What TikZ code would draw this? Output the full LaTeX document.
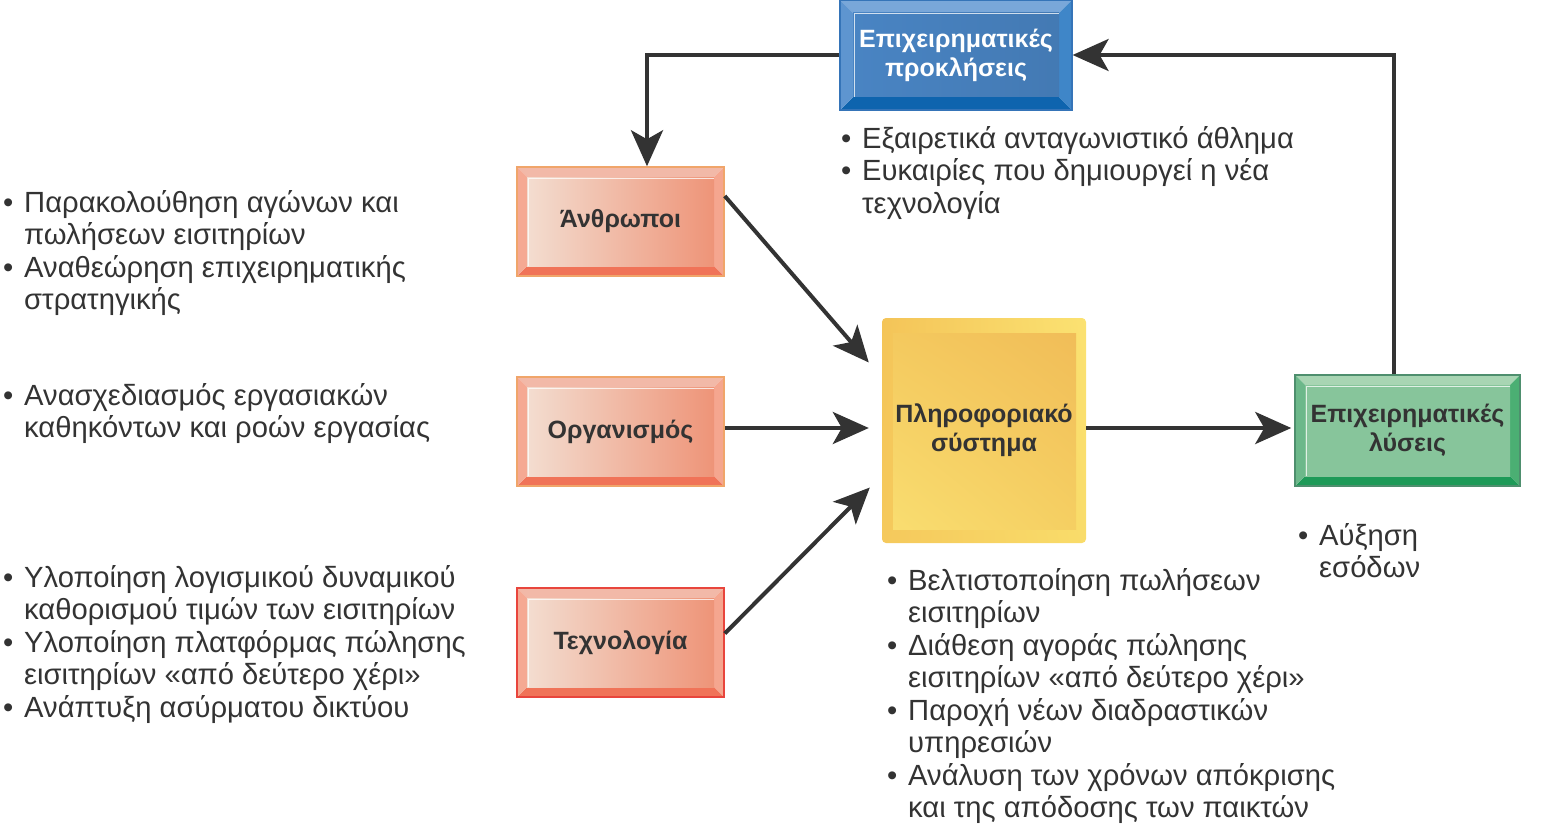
\documentclass[tikz,border=0pt]{standalone}
\usepackage{fontspec}
\setmainfont{Liberation Sans}
\usetikzlibrary{arrows.meta,calc,shadings}
\definecolor{txt}{HTML}{333333}
\definecolor{arr}{HTML}{333333}
% orange
\definecolor{orTop}{HTML}{F2B9A8}
\definecolor{orBot}{HTML}{F07358}
\definecolor{orLeft}{HTML}{F5A993}
\definecolor{orRight}{HTML}{F5A68F}
\definecolor{orFaceL}{HTML}{F3DDD0}
\definecolor{orFaceR}{HTML}{EE9478}
\definecolor{orBorder}{HTML}{F0A56A}
\definecolor{redBorder}{HTML}{E8453C}
% blue
\definecolor{blTop}{HTML}{79A7D9}
\definecolor{blBot}{HTML}{0E64AE}
\definecolor{blLeft}{HTML}{5E95D0}
\definecolor{blRight}{HTML}{3F86C8}
\definecolor{blFace}{HTML}{4984C3}
\definecolor{blBorder}{HTML}{3574B8}
% green
\definecolor{grTop}{HTML}{A8D5B3}
\definecolor{grBot}{HTML}{1E9A58}
\definecolor{grLeft}{HTML}{6CB88A}
\definecolor{grRight}{HTML}{4BAF73}
\definecolor{grFace}{HTML}{87C59B}
\definecolor{grBorder}{HTML}{4E8F6E}
% yellow
\definecolor{yoUL}{HTML}{F4C458}
\definecolor{yoUR}{HTML}{FBE272}
\definecolor{yoLL}{HTML}{F5C95C}
\definecolor{yoLR}{HTML}{F9DC6A}
\definecolor{yiUL}{HTML}{F4C95E}
\definecolor{yiUR}{HTML}{F1BD58}
\definecolor{yiLL}{HTML}{F9DD70}
\definecolor{yiLR}{HTML}{F5CF62}
\newcommand\bevelbox[9]{%
  \fill[#6] (#1,#2) -- (#3,#2) -- ({#3-#5},{#2+#5}) -- ({#1+#5},{#2+#5}) -- cycle;
  \fill[#7] (#1,#4) -- (#3,#4) -- ({#3-#5},{#4-#5}) -- ({#1+#5},{#4-#5}) -- cycle;
  \fill[#8] (#1,#2) -- ({#1+#5},{#2+#5}) -- ({#1+#5},{#4-#5}) -- (#1,#4) -- cycle;
  \fill[#9] (#3,#2) -- ({#3-#5},{#2+#5}) -- ({#3-#5},{#4-#5}) -- (#3,#4) -- cycle;
}
\newcommand\facebox[6]{%
  \shade[#6] ({#1+#5},{#2+#5}) rectangle ({#3-#5},{#4-#5});
  \draw[white, opacity=.75, line width=1pt] ({#1+#5+1},{#4-#5}) -- ({#1+#5+1},{#2+#5+1}) -- ({#3-#5},{#2+#5+1});
}
\newcommand\bl{\makebox[21pt][l]{•}}
\newcommand\ind{\hspace*{21pt}}
\tikzset{
  boxlabel/.style={font=\fontsize{25}{29}\selectfont\bfseries, text=txt, align=center, inner sep=0pt},
  bodytext/.style={font=\fontsize{29.2}{32.5}\selectfont, text=txt, align=left, inner sep=0pt, anchor=base west},
  conn/.style={draw=arr, line width=4pt, -{Stealth[length=36pt,width=32pt,inset=9pt]}},
}
\begin{document}
\begin{tikzpicture}[x=1pt, y=-1pt]
\useasboundingbox (0,0) rectangle (1544,824);
% ---- blue box
\bevelbox{840}{0}{1072}{110}{13}{blTop}{blBot}{blLeft}{blRight}
\facebox{840}{0}{1072}{110}{13}{left color=blFace, right color=blFace!92!black}
\node[boxlabel, text=white, draw=blBorder, line width=1.2pt, minimum width=232pt, minimum height=110pt] (chal) at (956,55) {Επιχειρηματικές\\προκλήσεις};
% ---- orange boxes
\bevelbox{517}{167}{724}{276}{10}{orTop}{orBot}{orLeft}{orRight}
\facebox{517}{167}{724}{276}{10}{left color=orFaceL, right color=orFaceR}
\node[boxlabel, draw=orBorder, line width=1.5pt, minimum width=207pt, minimum height=109pt] (anth) at (620.5,221.5) {Άνθρωποι};
\bevelbox{517}{377}{724}{486}{10}{orTop}{orBot}{orLeft}{orRight}
\facebox{517}{377}{724}{486}{10}{left color=orFaceL, right color=orFaceR}
\node[boxlabel, draw=orBorder, line width=1.5pt, minimum width=207pt, minimum height=109pt] (org) at (620.5,431.5) {Οργανισμός};
\bevelbox{517}{588}{724}{697}{10}{orTop}{orBot}{orLeft}{orRight}
\facebox{517}{588}{724}{697}{10}{left color=orFaceL, right color=orFaceR}
\node[boxlabel, draw=redBorder, line width=1.5pt, minimum width=207pt, minimum height=109pt] (tech) at (620.5,642.5) {Τεχνολογία};
% ---- yellow box
\shade[rounded corners=4pt, upper left=yoUL, upper right=yoUR, lower left=yoLL, lower right=yoLR] (882,318) rectangle (1086,543);
\shade[upper left=yiUL, upper right=yiUR, lower left=yiLL, lower right=yiLR] (893,333) rectangle (1076,529);
\node[boxlabel, minimum width=204pt, minimum height=225pt] (info) at (984,430.5) {Πληροφοριακό\\σύστημα};
% ---- green box
\bevelbox{1295}{375}{1520}{486}{10}{grTop}{grBot}{grLeft}{grRight}
\facebox{1295}{375}{1520}{486}{10}{left color=grFace, right color=grFace}
\node[boxlabel, draw=grBorder, line width=1.5pt, minimum width=225pt, minimum height=111pt] (sol) at (1407.5,430.5) {Επιχειρηματικές\\λύσεις};
% ---- connectors
\draw[conn] (chal.west) -| ([xshift=26.5pt]anth.north);
\draw[conn] ([xshift=-13.5pt]sol.north) |- (chal.east);
\draw[conn] ([yshift=25.5pt]anth.east) -- ([xshift=-13pt,yshift=68pt]info.west);
\draw[conn] ([yshift=3.5pt]org.east) -- ([xshift=-13pt,yshift=2.5pt]info.west);
\draw[conn] ([yshift=9pt]tech.east) -- ([xshift=-12pt,yshift=-57pt]info.west);
\draw[conn] ([yshift=2.5pt]info.east) -- ([xshift=-3pt,yshift=2.5pt]sol.west);
% ---- texts (anchor = baseline of last line)
\node[bodytext] (t1) at (3,309.5) {\bl Παρακολούθηση αγώνων και\\\ind πωλήσεων εισιτηρίων\\\bl Αναθεώρηση επιχειρηματικής\\\ind στρατηγικής};
\node[bodytext] (t2) at (3,437.5) {\bl Ανασχεδιασμός εργασιακών\\\ind καθηκόντων και ροών εργασίας};
\node[bodytext] (t3) at (3,717) {\bl Υλοποίηση λογισμικού δυναμικού\\\ind καθορισμού τιμών των εισιτηρίων\\\bl Υλοποίηση πλατφόρμας πώλησης\\\ind εισιτηρίων «από δεύτερο χέρι»\\\bl Ανάπτυξη ασύρματου δικτύου};
\node[bodytext] (t4) at (841,213) {\bl Εξαιρετικά ανταγωνιστικό άθλημα\\\bl Ευκαιρίες που δημιουργεί η νέα\\\ind τεχνολογία};
\node[bodytext] (t5) at (887,817.5) {\bl Βελτιστοποίηση πωλήσεων\\\ind εισιτηρίων\\\bl Διάθεση αγοράς πώλησης\\\ind εισιτηρίων «από δεύτερο χέρι»\\\bl Παροχή νέων διαδραστικών\\\ind υπηρεσιών\\\bl Ανάλυση των χρόνων απόκρισης\\\ind και της απόδοσης των παικτών};
\node[bodytext] (t6) at (1298,577.5) {\bl Αύξηση\\\ind εσόδων};
\end{tikzpicture}
\end{document}
